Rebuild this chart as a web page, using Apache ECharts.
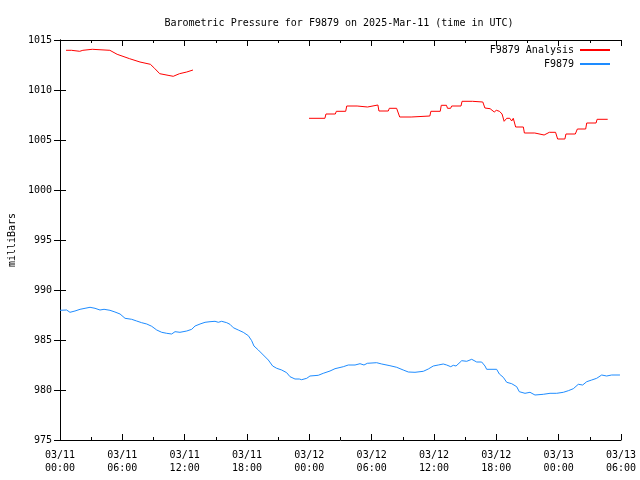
<!DOCTYPE html>
<html>
<head>
<meta charset="utf-8">
<script src="https://cdn.jsdelivr.net/npm/echarts@6/dist/echarts.min.js"></script>
<style>html,body{margin:0;padding:0;background:#fff}#c{width:640px;height:480px}</style>
</head>
<body>
<div id="c"></div>
<script>
// hours since 03/11 00:00 UTC
const tickLabels = ["03/11\n00:00","03/11\n06:00","03/11\n12:00","03/11\n18:00","03/12\n00:00","03/12\n06:00","03/12\n12:00","03/12\n18:00","03/13\n00:00","03/13\n06:00"];

const analysisPart1 = [[0.58,1013.97],[1.1,1013.97],[1.2,1013.87],[1.9,1013.87],[2.0,1013.97],[2.2,1013.97],[2.3,1014.07],[3.1,1014.07],[3.2,1013.97],[4.8,1013.97],[5.5,1013.57],[6.7,1013.13],[7.7,1012.8],[8.7,1012.57],[9.1,1012.17],[9.6,1011.63],[10.4,1011.47],[10.9,1011.37],[11.5,1011.63],[12.2,1011.8],[12.8,1012.0]];

const analysisPart2 = [[23.97,1007.17],[25.5,1007.17],[25.6,1007.6],[26.5,1007.6],[26.6,1007.87],[27.5,1007.87],[27.6,1008.4],[28.6,1008.4],[28.7,1008.3],[29.6,1008.3],[29.7,1008.5],[30.6,1008.5],[30.7,1007.9],[31.6,1007.9],[31.7,1008.17],[32.4,1008.17],[32.7,1007.3],[33.8,1007.3],[33.9,1007.4],[35.6,1007.4],[35.7,1007.87],[36.6,1007.87],[36.7,1008.47],[37.2,1008.47],[37.3,1008.17],[37.6,1008.17],[37.7,1008.4],[38.6,1008.4],[38.7,1008.87],[39.7,1008.87],[39.8,1008.8],[40.7,1008.8],[40.9,1008.2],[41.4,1008.13],[41.8,1007.8],[42.0,1007.97],[42.3,1007.87],[42.55,1007.6],[42.75,1006.87],[43.0,1007.17],[43.3,1007.17],[43.48,1006.9],[43.63,1007.17],[43.86,1006.3],[44.6,1006.3],[44.7,1005.7],[45.7,1005.7],[45.8,1005.5],[46.6,1005.5],[46.7,1005.67],[47.1,1005.77],[47.7,1005.77],[47.9,1005.1],[48.6,1005.1],[48.7,1005.6],[49.6,1005.6],[49.8,1006.1],[50.6,1006.1],[50.7,1006.7],[51.6,1006.7],[51.7,1007.07],[52.72,1007.07]];

const stationSeries = [[0,987.97],[0.64,988.0],[0.96,987.77],[1.44,987.9],[1.93,988.07],[2.41,988.17],[2.89,988.27],[3.37,988.17],[3.85,988.0],[4.24,988.07],[4.81,987.97],[5.29,987.8],[5.78,987.6],[6.26,987.17],[6.9,987.07],[7.38,986.9],[7.86,986.73],[8.35,986.6],[8.83,986.37],[9.31,986.0],[9.79,985.77],[10.27,985.67],[10.75,985.6],[11.07,985.83],[11.55,985.77],[12.2,985.9],[12.68,986.07],[13.0,986.4],[13.48,986.6],[13.96,986.77],[14.44,986.83],[14.92,986.87],[15.24,986.77],[15.56,986.87],[16.05,986.73],[16.36,986.57],[16.68,986.23],[17.16,986.0],[17.64,985.77],[18.13,985.43],[18.45,984.93],[18.67,984.4],[19.09,984.0],[19.57,983.5],[20.05,983.0],[20.47,982.4],[20.86,982.17],[21.34,982.0],[21.82,981.73],[22.14,981.33],[22.62,981.1],[23.03,981.1],[23.26,981.03],[23.75,981.17],[24.06,981.4],[24.86,981.47],[25.34,981.67],[25.99,981.9],[26.47,982.13],[27.27,982.33],[27.75,982.5],[28.4,982.5],[28.88,982.63],[29.26,982.5],[29.58,982.67],[30.48,982.73],[30.97,982.6],[31.76,982.43],[32.41,982.27],[33.04,982.0],[33.53,981.8],[34.17,981.77],[34.97,981.87],[35.45,982.1],[35.93,982.4],[36.41,982.5],[36.89,982.6],[37.22,982.5],[37.61,982.33],[37.86,982.47],[38.12,982.4],[38.67,982.93],[39.15,982.87],[39.63,983.07],[40.11,982.8],[40.59,982.8],[40.91,982.4],[41.07,982.07],[42.03,982.07],[42.29,981.6],[42.67,981.27],[43.0,980.77],[43.48,980.63],[43.96,980.33],[44.21,979.83],[44.76,979.67],[45.24,979.77],[45.72,979.5],[46.52,979.57],[47.17,979.67],[47.81,979.67],[48.45,979.77],[48.93,979.93],[49.41,980.13],[49.89,980.57],[50.31,980.5],[50.7,980.83],[51.18,981.0],[51.66,981.17],[52.14,981.5],[52.62,981.4],[53.1,981.5],[53.9,981.5]];

const FONT = '"DejaVu Sans Mono", monospace';
const chart = echarts.init(document.getElementById('c'), null, {renderer:'canvas'});
const axisCommon = {
  axisLine:{show:true, lineStyle:{color:'#000', width:1}},
  axisTick:{show:true, inside:true, length:6, lineStyle:{color:'#000'}},
  splitLine:{show:false}
};
chart.setOption({
  animation:false,
  backgroundColor:'#fff',
  title:{text:'Barometric Pressure for F9879 on 2025-Mar-11 (time in UTC)', left:334, textAlign:'center', top:13,
    textStyle:{fontFamily:FONT, fontSize:10, fontWeight:'normal', color:'#000'}},
  legend:[
    {data:[{name:'F9879 Analysis'}], right:25, top:40, align:'right', itemWidth:30, itemHeight:2, icon:'rect',
     textStyle:{fontFamily:FONT, fontSize:10, color:'#000', padding:[0,1,0,0]}},
    {data:[{name:'F9879'}], right:25, top:54, align:'right', itemWidth:30, itemHeight:2, icon:'rect',
     textStyle:{fontFamily:FONT, fontSize:10, color:'#000', padding:[0,1,0,0]}}
  ],
  grid:{left:60, right:19, top:40, bottom:40, containLabel:false, outerBoundsMode:'none'},
  xAxis:[
    Object.assign({type:'value', min:0, max:54, interval:6, position:'bottom',
      minorTick:{show:true, splitNumber:2, length:3, lineStyle:{color:'#000'}},
      axisLabel:{fontFamily:FONT, fontSize:10, color:'#000', margin:9, lineHeight:13,
        formatter:(v)=>tickLabels[Math.round(v/6)]}}, axisCommon),
    Object.assign({type:'value', min:0, max:54, interval:6, position:'top',
      minorTick:{show:true, splitNumber:2, length:3, lineStyle:{color:'#000'}},
      axisLabel:{show:false}}, axisCommon)
  ],
  yAxis:[
    Object.assign({type:'value', min:975, max:1015, interval:5, position:'left',
      name:'milliBars', nameLocation:'middle', nameGap:43, nameRotate:90,
      nameTextStyle:{fontFamily:FONT, fontSize:10, color:'#000'},
      axisLabel:{fontFamily:FONT, fontSize:10, color:'#000', margin:8, formatter:(v)=>String(v)}}, axisCommon),
    Object.assign({type:'value', min:975, max:1015, interval:5, position:'right',
      axisLabel:{show:false}}, axisCommon)
  ],
  series:[
    {name:'F9879 Analysis', type:'line', showSymbol:false, symbol:'none', color:'#ff0000',
     lineStyle:{width:1, color:'#ff0000'}, connectNulls:false,
     data: analysisPart1.concat([[18,'-']], analysisPart2)},
    {name:'F9879', type:'line', showSymbol:false, symbol:'none', color:'#1e8cff',
     lineStyle:{width:1, color:'#1e8cff'}, data: stationSeries}
  ]
});
</script>
</body>
</html>
